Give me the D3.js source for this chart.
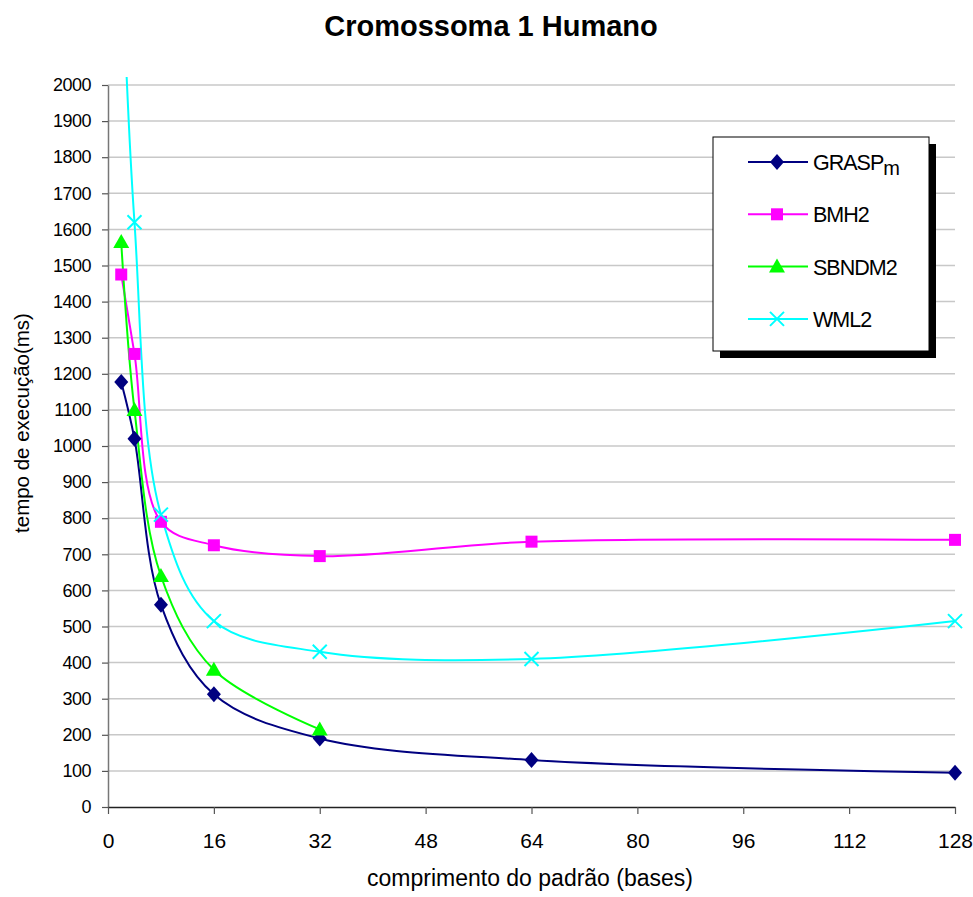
<html>
<head>
<meta charset="utf-8">
<script src="https://cdn.jsdelivr.net/npm/d3@7"></script>
<style>
  body { margin: 0; background: #fff; }
  text { font-family: Arial, "Liberation Sans", sans-serif; fill: #000; }
</style>
</head>
<body>
<svg></svg>
<script>
var xTicks = [0, 16, 32, 48, 64, 80, 96, 112, 128];
var yTicks = d3.range(0, 2001, 100);
var graspX = [2, 4, 8, 16, 32, 64, 128];
var graspY = [1177, 1020, 560, 312, 190, 130, 95];
var bmhX = [2, 4, 8, 16, 32, 64, 128];
var bmhY = [1475, 1255, 790, 725, 695, 735, 740];
var sbndmX = [2, 4, 8, 16, 32];
var sbndmY = [1565, 1100, 640, 380, 215];
var wmlX = [2, 4, 8, 16, 32, 64, 128];
var wmlY = [2400, 1620, 810, 515, 430, 410, 515];
var names = ['GRASP', 'BMH2', 'SBNDM2', 'WML2'];
var colors = ['#000080', '#ff00ff', '#00ff00', '#00ffff'];
var shapes = ['diamond', 'square', 'triangle', 'cross'];

var series = [
  {xs: graspX, ys: graspY},
  {xs: bmhX, ys: bmhY},
  {xs: sbndmX, ys: sbndmY},
  {xs: wmlX, ys: wmlY}
].map(function(s, i) {
  return {name: names[i], color: colors[i], shape: shapes[i],
    pts: s.xs.map(function(x, j) { return {x: x, y: s.ys[j]}; })};
});

var svg = d3.select('svg').attr('width', 973).attr('height', 897);
var x = d3.scaleLinear().domain([0, 128]).range([108, 955]);
var y = d3.scaleLinear().domain([0, 2000]).range([807, 85]);

svg.append('text').attr('x', 491).attr('y', 36).attr('text-anchor', 'middle')
  .style('font-size', '29px').style('font-weight', 'bold').text('Cromossoma 1 Humano');

// grid
svg.append('g').selectAll('line').data(yTicks.slice(1)).enter().append('line')
  .attr('x1', x(0)).attr('x2', x(128))
  .attr('y1', function(d) { return y(d); }).attr('y2', function(d) { return y(d); })
  .attr('stroke', '#c8c8c8').attr('stroke-width', 1.5);

var yAxis = svg.append('g').attr('transform', 'translate(' + x(0) + ',0)')
  .call(d3.axisLeft(y).tickValues(yTicks).tickFormat(d3.format('d'))
    .tickSize(6).tickPadding(11).tickSizeOuter(0));
var xAxis = svg.append('g').attr('transform', 'translate(0,' + y(0) + ')')
  .call(d3.axisBottom(x).tickValues(xTicks).tickSize(7).tickPadding(19).tickSizeOuter(0));
yAxis.select('.domain').attr('stroke', '#777').attr('stroke-width', 1.5);
xAxis.select('.domain').attr('stroke', '#222').attr('stroke-width', 1.5);
[yAxis, xAxis].forEach(function(a) {
  a.selectAll('.tick line').attr('stroke', '#555').attr('stroke-width', 1.2);
  a.selectAll('text').style('font-family', 'Arial, "Liberation Sans", sans-serif');
});
yAxis.selectAll('text').style('font-size', '18px').style('letter-spacing', '-0.5px');
xAxis.selectAll('text').style('font-size', '21px');

svg.append('text').attr('transform', 'translate(29,423) rotate(-90)')
  .attr('text-anchor', 'middle').style('font-size', '20.5px').text('tempo de execução(ms)');
svg.append('text').attr('x', 530).attr('y', 886).attr('text-anchor', 'middle')
  .style('font-size', '23px').text('comprimento do padrão (bases)');

svg.append('clipPath').attr('id', 'clip').append('rect')
  .attr('x', x(0)).attr('y', 77).attr('width', x(128) - x(0) + 10).attr('height', y(0) - 77);

var line = d3.line().x(function(d) { return x(d.x); }).y(function(d) { return y(d.y); })
  .curve(d3.curveCatmullRom.alpha(0.5));

function marker(g, shape, color) {
  if (shape === 'diamond') {
    g.append('path').attr('d', 'M0,-8L7,0L0,8L-7,0Z').attr('fill', color);
  } else if (shape === 'square') {
    g.append('rect').attr('x', -6).attr('y', -6).attr('width', 12).attr('height', 12).attr('fill', color);
  } else if (shape === 'triangle') {
    g.append('path').attr('d', 'M0,-8L8,6L-8,6Z').attr('fill', color);
  } else {
    g.append('path').attr('d', 'M-7,-7L7,7M-7,7L7,-7').attr('stroke', color).attr('stroke-width', 2).attr('fill', 'none');
  }
}

var plot = svg.append('g').attr('clip-path', 'url(#clip)');
series.forEach(function(s) {
  plot.append('path').datum(s.pts).attr('d', line)
    .attr('fill', 'none').attr('stroke', s.color).attr('stroke-width', 2);
});
series.forEach(function(s) {
  plot.selectAll(null).data(s.pts.filter(function(p) { return p.y <= 2000; })).enter().append('g')
    .attr('transform', function(d) { return 'translate(' + x(d.x) + ',' + y(d.y) + ')'; })
    .each(function() { marker(d3.select(this), s.shape, s.color); });
});

// legend
var lg = svg.append('g').attr('transform', 'translate(713,137)');
lg.append('rect').attr('x', 7).attr('y', 7).attr('width', 216).attr('height', 214).attr('fill', '#000');
lg.append('rect').attr('x', 0).attr('y', 0).attr('width', 216).attr('height', 214)
  .attr('fill', '#fff').attr('stroke', '#000').attr('stroke-width', 1);
series.forEach(function(s, i) {
  var ry = 25 + i * 52.3;
  lg.append('line').attr('x1', 35).attr('x2', 95).attr('y1', ry).attr('y2', ry)
    .attr('stroke', s.color).attr('stroke-width', 2);
  var m = lg.append('g').attr('transform', 'translate(64,' + ry + ')');
  marker(m, s.shape, s.color);
  var t = lg.append('text').attr('x', 100).attr('y', ry + 8).style('font-size', '21.5px')
    .style('letter-spacing', '-1px').text(s.name);
  if (i === 0) t.append('tspan').attr('dy', 5).style('font-size', '20px').text('m');
});
</script>
</body>
</html>
